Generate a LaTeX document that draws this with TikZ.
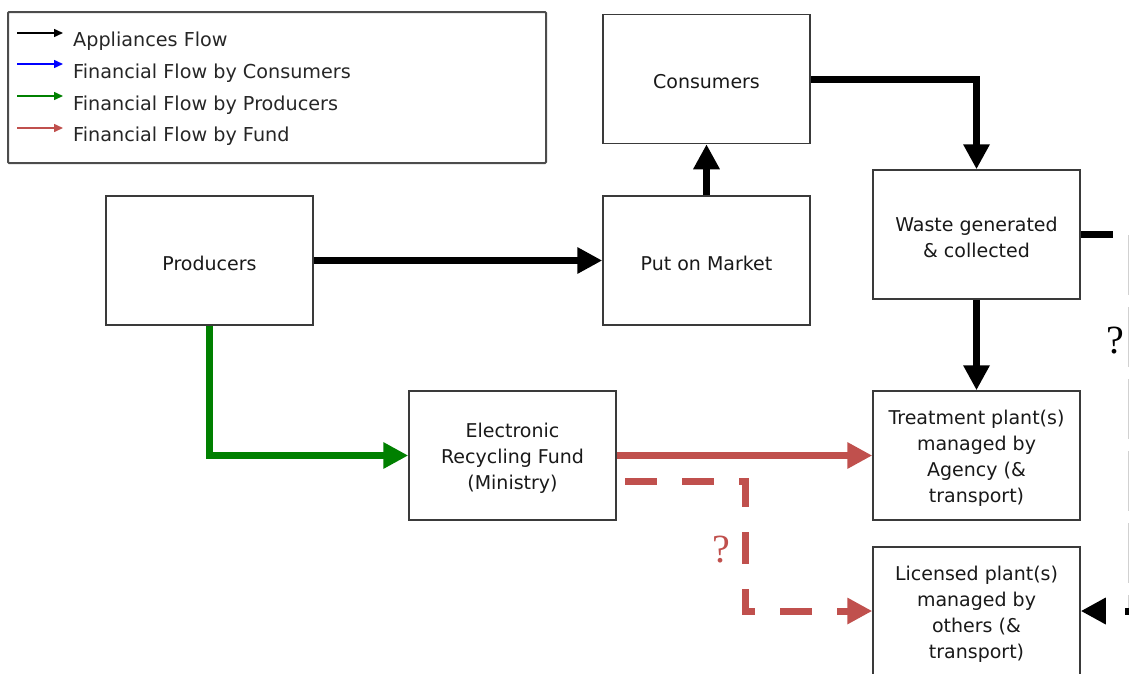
\documentclass[tikz,border=0pt]{standalone}
\usepackage{fontspec}
\setmainfont{DejaVu Sans}
\newfontfamily\qfont{Liberation Serif}
\usetikzlibrary{arrows.meta,calc}
\definecolor{fundred}{HTML}{C0504D}
\definecolor{prodgreen}{HTML}{008000}
\definecolor{boxline}{HTML}{3A3A3A}
\begin{document}
\begin{tikzpicture}[x=1pt,y=-1pt,
  box/.style={draw=boxline,line width=1.5pt,fill=white,minimum width=207pt,minimum height=129pt,
    inner sep=0pt,label={[boxtext]center:#1}},
  boxtext/.style={align=center,inner sep=0pt,yshift=-3pt,text=black!90,font=\fontsize{19}{26}\selectfont},
  flow/.style={line width=7pt,-{Triangle[length=25pt,width=25pt]}},
  legarrow/.style={line width=1.5pt,-{Triangle[length=9pt,width=8pt]}},
  legtext/.style={anchor=west,inner sep=0pt,font=\fontsize{19.2}{22}\selectfont,text=black!85},
  qmark/.style={inner sep=0pt,font=\qfont\fontsize{40}{40}\selectfont}]
\useasboundingbox (0,0) rectangle (1129,673);
\clip (0,0) rectangle (1129,673);
% legend
\node[draw=black!70,line width=2pt,rounded corners=1pt,minimum width=538pt,minimum height=151pt,inner sep=0pt] (legend) at (277,87.5) {};
\coordinate (la1) at (17,33); \coordinate (lb1) at (63,33);
\coordinate (la2) at (17,64); \coordinate (lb2) at (63,64);
\coordinate (la3) at (17,96); \coordinate (lb3) at (63,96);
\coordinate (la4) at (17,128); \coordinate (lb4) at (63,128);
\draw[legarrow,black] (la1) -- (lb1);
\draw[legarrow,blue] (la2) -- (lb2);
\draw[legarrow,prodgreen] (la3) -- (lb3);
\draw[legarrow,fundred] (la4) -- (lb4);
\node[legtext] (lt1) at (73,41.5) {Appliances Flow};
\node[legtext] (lt2) at (73,73.5) {Financial Flow by Consumers};
\node[legtext] (lt3) at (73,105.5) {Financial Flow by Producers};
\node[legtext] (lt4) at (73,136.5) {Financial Flow by Fund};
% boxes
\node[box={Consumers}] (cons) at (706.5,79) {};
\node[box={Producers}] (prod) at (209.5,260.5) {};
\node[box={Put on Market}] (mkt) at (706.5,260.5) {};
\node[box={Waste generated\\\& collected}] (waste) at (976.5,234.5) {};
\node[box={Electronic\\Recycling Fund\\(Ministry)}] (erf) at (512.5,455.5) {};
\node[box={Treatment plant(s)\\managed by\\Agency (\&\\transport)}] (treat) at (976.5,455.5) {};
\node[box={Licensed plant(s)\\managed by\\others (\&\\transport)},minimum height=128pt] (lic) at (976.5,611) {};
% appliance flows
\draw[flow] (prod.east) -- (mkt.west);
\draw[flow] (mkt.north) -- (cons.south);
\draw[flow] (cons.east) -| (waste.north);
\draw[flow] (waste.south) -- (treat.north);
% off-edge dashed return
\coordinate (rc1) at (1132,234.5);
\coordinate (rc2) at (1132,611);
\draw[line width=7pt,dash pattern=on 32pt off 25pt] (waste.east) -- (rc1);
\draw[black!18,line width=7pt,dash pattern=on 60pt off 12pt] ([xshift=-0.5pt]rc1) -- ([xshift=-0.5pt]rc2);
\draw[line width=7pt,dash pattern=on 7pt off 40pt,-{Triangle[length=25pt,width=25pt]}] (rc2) -- (lic.east);
% financial flows
\draw[flow,prodgreen] (prod.south) |- (erf.west);
\draw[flow,fundred] (erf.east) -- (treat.west);
\coordinate (d0) at (625,481);
\coordinate (d1) at (745,481);
\coordinate (d2) at (745,611);
\draw[flow,fundred,dash pattern=on 32pt off 25pt] (d0) -- (d1) -- (d2) -- (lic.west);
% question marks
\node[qmark,text=fundred] (q1) at (721,550) {?};
\node[qmark,text=black] (q2) at (1115,341) {?};
\end{tikzpicture}
\end{document}
